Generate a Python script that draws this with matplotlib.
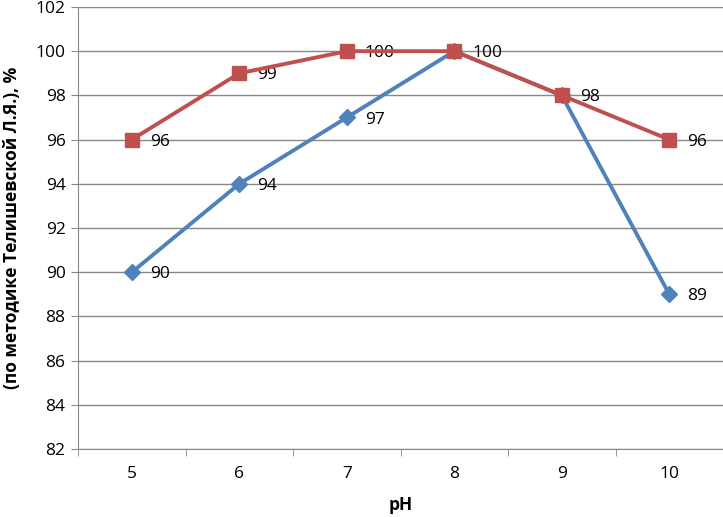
import matplotlib
matplotlib.use("Agg")
import matplotlib.pyplot as plt
from matplotlib.ticker import FixedLocator

plt.rcParams['font.family'] = ['Open Sans', 'DejaVu Sans']

ph = [5, 6, 7, 8, 9, 10]
series_red = [96, 99, 100, 100, 98, 96]
series_blue = [90, 94, 97, 100, 98, 89]
y_label = "(по методике Телишевской Л.Я.), %"
x_label = "pH"

blue = '#4F81BD'
red = '#C0504D'

fig = plt.figure(figsize=(7.23, 5.17), dpi=100)
ax = fig.add_axes([0.108, 0.1315, 0.892, 0.855])

ax.plot(ph, series_blue, color=blue, lw=2.8, marker='D', ms=8, zorder=3)
ax.plot(ph, series_red, color=red, lw=2.8, marker='s', ms=10.5, zorder=4)

# data labels, blue ones hidden where they coincide with red
for x, y, yr in zip(ph, series_blue, series_red):
    if y == yr:
        continue
    ax.annotate(str(y), (x, y), xytext=(13, -1.5), textcoords='offset points',
                va='center', ha='left', fontsize=12.5)
for x, y in zip(ph, series_red):
    ax.annotate(str(y), (x, y), xytext=(13, -1.5), textcoords='offset points',
                va='center', ha='left', fontsize=12.5)

ax.set_xlim(4.5, 10.5)
ax.set_ylim(82, 102)
ax.set_yticks(range(82, 103, 2))
ax.set_xticks(ph)
ax.xaxis.set_minor_locator(FixedLocator([4.5 + i for i in range(7)]))
ax.tick_params(axis='x', which='major', length=0, pad=12, labelsize=12.5)
ax.tick_params(axis='x', which='minor', length=5, color='#888888', direction='out')
ax.tick_params(axis='y', length=5, color='#888888', labelsize=12.5, pad=4)

ax.grid(axis='y', color='#888888', lw=1)
ax.set_axisbelow(True)
for s in ['top', 'right']:
    ax.spines[s].set_visible(False)
for s in ['left', 'bottom']:
    ax.spines[s].set_color('#888888')

ax.set_xlabel(x_label, fontsize=12.5, fontweight='bold', labelpad=10)
fig.text(0.017, 0.56, y_label, rotation=90, fontsize=12.5, fontweight='bold',
         ha='center', va='center')

fig.savefig('out.png', dpi=100)
